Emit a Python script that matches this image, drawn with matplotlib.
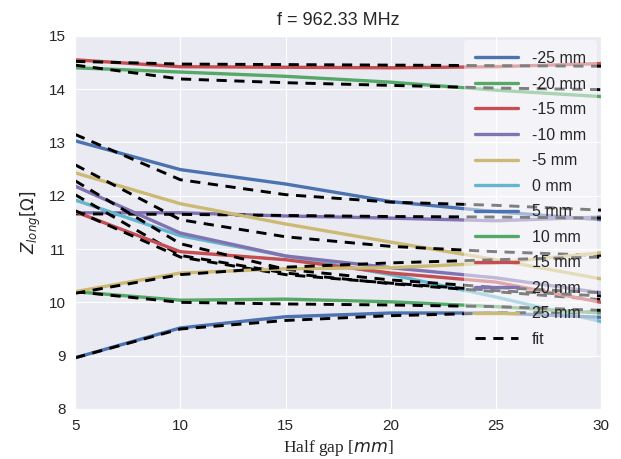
import matplotlib
matplotlib.use("Agg")
import matplotlib.pyplot as plt
import seaborn as sns

sns.set_style("darkgrid")
plt.rcParams['font.family'] = ['Liberation Sans', 'DejaVu Sans']

# half gap in mm
gap = [5, 10, 15, 20, 25, 30]

labels = ['-25 mm', '-20 mm', '-15 mm', '-10 mm', '-5 mm', '0 mm',
          '5 mm', '10 mm', '15 mm', '20 mm', '25 mm']

# measured Z_long (Ohm) per offset
z_m25 = [13.03, 12.49, 12.22, 11.89, 11.70, 11.55]
z_m20 = [14.40, 14.32, 14.24, 14.13, 13.98, 13.86]
z_m15 = [14.55, 14.42, 14.41, 14.40, 14.42, 14.48]
z_m10 = [11.68, 11.68, 11.62, 11.58, 11.53, 11.60]
z_m5 = [12.43, 11.85, 11.47, 11.13, 10.80, 10.44]
z_0 = [11.92, 11.25, 10.87, 10.52, 10.10, 9.64]
z_p5 = [8.96, 9.52, 9.73, 9.80, 9.80, 9.72]
z_p10 = [10.20, 10.04, 10.06, 10.01, 9.92, 9.80]
z_p15 = [11.70, 10.95, 10.80, 10.55, 10.38, 10.00]
z_p20 = [12.18, 11.30, 10.87, 10.65, 10.46, 10.18]
z_p25 = [10.20, 10.55, 10.63, 10.65, 10.74, 10.93]

# fitted curves
f_m25 = [13.15, 12.30, 12.02, 11.88, 11.82, 11.73]
f_m20 = [14.45, 14.19, 14.12, 14.07, 14.02, 13.99]
f_m15 = [14.52, 14.47, 14.46, 14.45, 14.44, 14.43]
f_m10 = [11.66, 11.65, 11.63, 11.61, 11.60, 11.58]
f_m5 = [12.58, 11.55, 11.23, 11.05, 10.95, 10.88]
f_0 = [12.02, 10.88, 10.55, 10.35, 10.20, 10.05]
f_p5 = [8.96, 9.50, 9.66, 9.75, 9.80, 9.82]
f_p10 = [10.20, 10.00, 9.97, 9.95, 9.92, 9.85]
f_p15 = [11.72, 10.85, 10.52, 10.36, 10.22, 10.12]
f_p20 = [12.28, 11.10, 10.62, 10.42, 10.28, 10.18]
f_p25 = [10.17, 10.52, 10.66, 10.74, 10.80, 10.85]

meas = [z_m25, z_m20, z_m15, z_m10, z_m5, z_0, z_p5, z_p10, z_p15, z_p20, z_p25]
fits = [f_m25, f_m20, f_m15, f_m10, f_m5, f_0, f_p5, f_p10, f_p15, f_p20, f_p25]

pal = ['#4C72B0', '#55A868', '#C44E52', '#8172B2', '#CCB974', '#64B5CD']

fig = plt.figure(figsize=(6.21, 4.59), dpi=100)
ax = fig.add_axes([0.121, 0.109, 0.847, 0.813])

for i in range(len(meas)):
    ax.plot(gap, meas[i], color=pal[i % 6], lw=2.4, label=labels[i])
    ax.plot(gap, fits[i], color='k', ls='--', dashes=(3.5, 2.6), lw=2.1,
            label='fit' if i == 0 else None)

# put 'fit' entry last in the legend
h, l = ax.get_legend_handles_labels()
order = [j for j in range(len(l)) if l[j] != 'fit'] + [l.index('fit')]
leg = ax.legend([h[j] for j in order], [l[j] for j in order], loc='upper right',
                frameon=True, fontsize=11.5, handlelength=2.7, labelspacing=0.66,
                borderaxespad=0.25, handletextpad=0.85, borderpad=0.7)
leg.get_frame().set_facecolor('white')
leg.get_frame().set_alpha(0.5)
leg.get_frame().set_edgecolor('none')

ax.set_xlim(5, 30)
ax.set_ylim(8, 15)
ax.set_xticks([5, 10, 15, 20, 25, 30])
ax.set_yticks([8, 9, 10, 11, 12, 13, 14, 15])
ax.tick_params(labelsize=11)
ax.set_title('f = 962.33 MHz', fontsize=13, pad=8)
ax.set_xlabel('Half gap [$mm$]', fontsize=12.5, family='Liberation Serif')
ax.set_ylabel(r'$Z_{long}[\Omega]$', fontsize=12)

fig.savefig('out.png', dpi=100)
